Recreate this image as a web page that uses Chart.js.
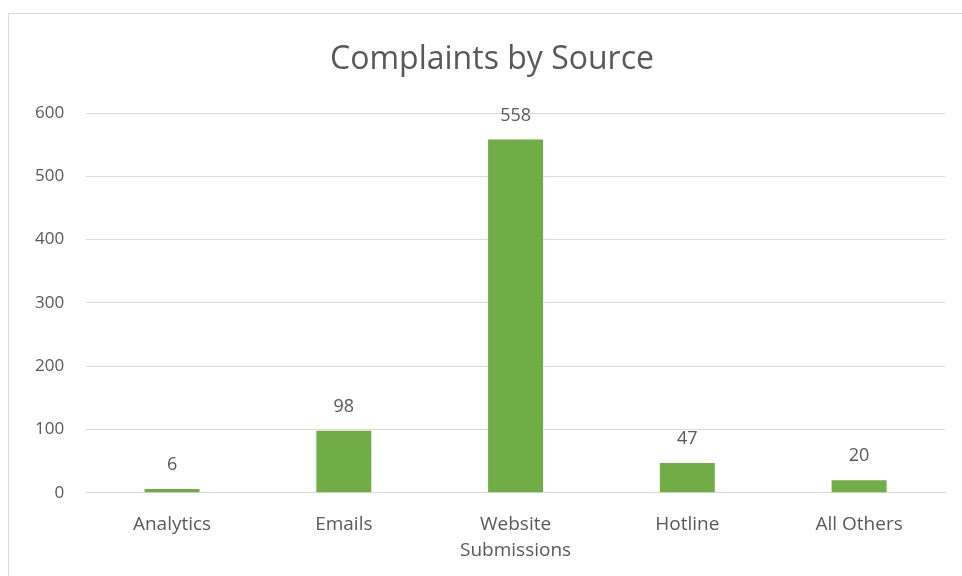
<!DOCTYPE html>
<html>
<head>
<meta charset="utf-8">
<script src="https://cdn.jsdelivr.net/npm/chart.js@4"></script>
<style>
    html, body { margin: 0; padding: 0; background: #fff; }
    body { width: 962px; height: 576px; position: relative; overflow: hidden; }
    #frame {
        position: absolute; left: 8px; top: 13px; width: 968px; height: 580px;
        border: 1px solid #d9d9d9; box-sizing: border-box;
    }
    #wrap { position: absolute; left: 0; top: 0; width: 962px; height: 576px; }
</style>
</head>
<body>
<div id="frame"></div>
<div id="wrap"><canvas id="chart"></canvas></div>
<script>
// 投诉来源统计
const sources = ['Analytics', 'Emails', ['Website', 'Submissions'], 'Hotline', 'All Others'];
const complaintCounts = [6, 98, 558, 47, 20];
const yTicks = [0, 100, 200, 300, 400, 500, 600];
const chartTitle = 'Complaints by Source';

const textGray = '#595959';
const fontFamily = '"Open Sans", "Liberation Sans", sans-serif';

// 标题居中于外框（外框 8px ~ 976px）
const frameTitle = {
    id: 'frameTitle',
    afterDraw(chart) {
        const ctx = chart.ctx;
        ctx.save();
        ctx.fillStyle = textGray;
        ctx.font = '32px ' + fontFamily;
        ctx.textAlign = 'center';
        ctx.textBaseline = 'middle';
        ctx.fillText(chartTitle, 492, 60);
        ctx.restore();
    }
};

// 柱顶数值标签
const valueLabels = {
    id: 'valueLabels',
    afterDatasetsDraw(chart) {
        const ctx = chart.ctx;
        const meta = chart.getDatasetMeta(0);
        ctx.save();
        ctx.fillStyle = textGray;
        ctx.font = '18px ' + fontFamily;
        ctx.textAlign = 'center';
        ctx.textBaseline = 'middle';
        meta.data.forEach((bar, i) => {
            ctx.fillText(String(complaintCounts[i]), bar.x, bar.y - 24);
        });
        ctx.restore();
    }
};

new Chart(document.getElementById('chart'), {
    type: 'bar',
    data: {
        labels: sources,
        datasets: [{
            label: 'Complaints',
            data: complaintCounts,
            backgroundColor: '#70ad47',
            borderWidth: 0,
            categoryPercentage: 1,
            barPercentage: 0.32
        }]
    },
    options: {
        responsive: true,
        maintainAspectRatio: false,
        animation: false,
        layout: { padding: { left: 13, right: 17, top: 113, bottom: 2 } },
        plugins: {
            legend: { display: false },
            tooltip: { enabled: false },
            title: { display: false }
        },
        scales: {
            y: {
                min: 0,
                max: 600,
                afterBuildTicks: axis => { axis.ticks = yTicks.map(v => ({ value: v })); },
                grid: { color: '#d9d9d9', drawTicks: false },
                border: { display: false },
                ticks: { color: textGray, font: { family: fontFamily, size: 17 }, padding: 22 }
            },
            x: {
                grid: { display: false },
                border: { color: '#d9d9d9' },
                ticks: {
                    color: textGray,
                    font: { family: fontFamily, size: 19, lineHeight: 1.4 },
                    padding: 10,
                    maxRotation: 0
                }
            }
        }
    },
    plugins: [valueLabels, frameTitle]
});
</script>
</body>
</html>
